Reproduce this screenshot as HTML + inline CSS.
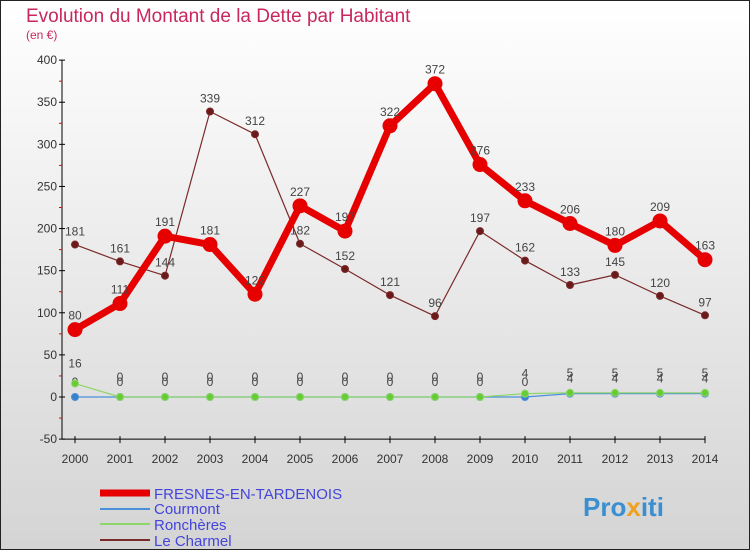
<!DOCTYPE html>
<html><head><meta charset="utf-8"><style>
body{margin:0}
#wrap{width:750px;height:550px;position:relative;overflow:hidden;font-family:"Liberation Sans",sans-serif}
</style></head><body>
<div id="wrap">
<svg id="svg" width="750" height="550" xmlns="http://www.w3.org/2000/svg">
<defs><linearGradient id="bg" x1="0" y1="0" x2="0" y2="1"><stop offset="0" stop-color="#ffffff"/><stop offset="1" stop-color="#d4d4d4"/></linearGradient></defs>
<rect x="0.5" y="0.5" width="749" height="549" fill="url(#bg)" stroke="#222"/>
<text x="26" y="22" font-size="19" fill="#c8275f">Evolution du Montant de la Dette par Habitant</text>
<text x="26" y="39" font-size="12" fill="#c8275f">(en €)</text>
<g id="axes"></g><g id="series"></g>
<g>
<line x1="100" y1="493" x2="150" y2="493" stroke="#e60000" stroke-width="7"/>
<text x="154" y="499" font-size="15" fill="#4444dd">FRESNES-EN-TARDENOIS</text>
<line x1="100" y1="509" x2="150" y2="509" stroke="#4a90d9" stroke-width="2"/>
<text x="154" y="514" font-size="15" fill="#4444dd">Courmont</text>
<line x1="100" y1="524" x2="150" y2="524" stroke="#8fd66a" stroke-width="2"/>
<text x="154" y="530" font-size="15" fill="#4444dd">Ronchères</text>
<line x1="100" y1="540" x2="150" y2="540" stroke="#7a2a2a" stroke-width="2"/>
<text x="154" y="546" font-size="15" fill="#4444dd">Le Charmel</text>
</g>
<text x="583" y="516" font-size="26" font-weight="bold" fill="#3a8fd0">Pro<tspan fill="#f0a020">x</tspan>iti</text>
</svg>
</div>
<script>
const years=[2000,2001,2002,2003,2004,2005,2006,2007,2008,2009,2010,2011,2012,2013,2014];
const fresnes=[80,111,191,181,122,227,197,322,372,276,233,206,180,209,163];
const courmont=[0,0,0,0,0,0,0,0,0,0,0,4,4,4,4];
const roncheres=[16,0,0,0,0,0,0,0,0,0,4,5,5,5,5];
const charmel=[181,161,144,339,312,182,152,121,96,197,162,133,145,120,97];
const yTicks=[-50,0,50,100,150,200,250,300,350,400];
const NS="http://www.w3.org/2000/svg";
function X(i){return 75+i*45;}
function Y(v){return 397-v*0.8422;}
function mk(t,a,p){const e=document.createElementNS(NS,t);for(const k in a)e.setAttribute(k,a[k]);p.appendChild(e);return e;}
const ax=document.getElementById('axes'),sg=document.getElementById('series');
let l=mk('line',{x1:62,y1:Y(400),x2:62,y2:Y(-50),stroke:'#000'},ax);


l=mk('line',{x1:62,y1:Y(-50),x2:X(14),y2:Y(-50),stroke:'#000'},ax);


yTicks.forEach(v=>{
 mk('line',{x1:59,y1:Y(v),x2:65,y2:Y(v),stroke:'#000'},ax);
 if(v<400) mk('line',{x1:59,y1:Y(v+25),x2:62,y2:Y(v+25),stroke:'#e00'},ax);
 const t=mk('text',{x:57,y:Y(v)+4,'font-size':12,'text-anchor':'end',fill:'#333'},ax);t.textContent=v;
 
 
});
years.forEach((y,i)=>{
 mk('line',{x1:X(i),y1:Y(-50)-3,x2:X(i),y2:Y(-50)+4,stroke:'#000'},ax);
 const t=mk('text',{x:X(i),y:Y(-50)+24,'font-size':12,'text-anchor':'middle',fill:'#333'},ax);t.textContent=y;
 
 
});
function series(vals,name,color,w,r,dot,labelUp){
 const g=mk('g',{},sg);
 
 
 mk('polyline',{points:vals.map((v,i)=>X(i)+','+Y(v)).join(' '),fill:'none',stroke:color,'stroke-width':w,'stroke-linejoin':'round'},g);
 vals.forEach((v,i)=>{
  const c=mk('circle',{cx:X(i),cy:Y(v),r:r,fill:dot,stroke:color,'stroke-width':1},g);
  
  
  const t=mk('text',{x:X(i),y:Y(v)-labelUp,'font-size':12,'text-anchor':'middle',fill:'#444'},g);t.textContent=v;
 });
}
series(charmel,'le-charmel','#7a2a2a',1.2,3.5,'#6a1a1a',9);
series(courmont,'courmont','#4a90d9',1.2,3.5,'#3a80c9',11);
series(roncheres,'roncheres','#8fd66a',1.2,3.5,'#66cc33',16);
series(fresnes,'fresnes','#e60000',7,7,'#e60000',10);
</script>
</body></html>
